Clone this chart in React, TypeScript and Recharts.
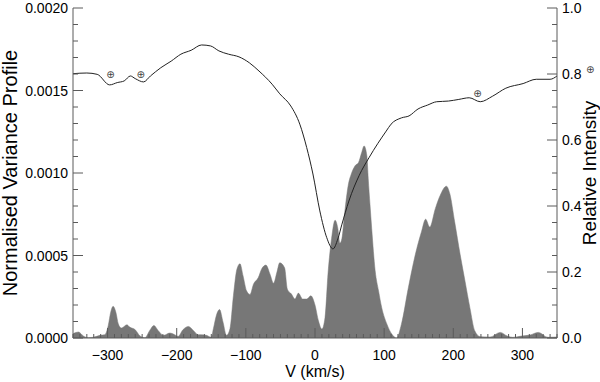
import React from 'react';
import { ComposedChart, Area, Line, XAxis, YAxis, ReferenceDot } from 'recharts';

// ---- Normalised variance profile (filled area, left axis) ----
const varianceVelocity = [
  -350, -342, -335, -328, -321, -311, -304, -299, -295.5, -292,
  -288, -284.5, -280, -272, -268, -260, -253, -246, -239, -233,
  -227, -219, -210, -203, -198, -191, -183, -176, -169, -164,
  -157, -150, -147, -142, -138, -133, -128, -123, -118, -113,
  -108.5, -104, -99, -94, -89, -82, -77, -71, -65, -60,
  -55, -51, -44, -40, -34, -29, -24, -18, -12, -6,
  0, 5, 10, 14.5, 19, 24, 29, 33, 36, 39,
  43, 48, 53, 58, 63, 67.5, 71, 75, 77, 79.5,
  82, 87, 92, 96.5, 104, 111, 118, 125, 135, 145,
  154, 160, 166, 174, 181, 190, 195, 202, 210, 217,
  224, 231, 239, 253, 268, 278, 286, 299, 311, 323,
  337, 350,
];
const varianceValues = [
  0.000026, 0.000036, 0.000012, 0.000002, 0.000004, 0.000016, 0.00002, 0.000076, 0.000156, 0.000192,
  0.000156, 0.000086, 0.00006, 0.00008, 0.000066, 0.00005, 0.000012, 0.000002, 0.000046, 0.000076,
  0.000046, 0.000016, 0.00003, 0.00002, 0.00001, 0.00005, 0.00007, 0.000046, 0.00002, 0.00002,
  0.000016, 0.000004, 0.000056, 0.000146, 0.000172, 0.000096, 0.000016, 0.000056, 0.000256, 0.000416,
  0.00045, 0.000376, 0.000286, 0.000264, 0.000326, 0.000366, 0.00042, 0.000442, 0.000386, 0.000332,
  0.0004, 0.000456, 0.000426, 0.000296, 0.000266, 0.000236, 0.000272, 0.000236, 0.000236, 0.000256,
  0.0002, 0.000104, 0.000054, 0.000124, 0.0004, 0.000604, 0.000714, 0.000664, 0.000574, 0.000604,
  0.000762, 0.000924, 0.001, 0.001044, 0.001064, 0.001124, 0.001164, 0.001104, 0.000964, 0.00081,
  0.000664, 0.000408, 0.000284, 0.000184, 0.000084, 0.000024, 0.0, 0.000084, 0.000304, 0.000504,
  0.000644, 0.00072, 0.000672, 0.000784, 0.000864, 0.00092, 0.000874, 0.000704, 0.000504, 0.000344,
  0.000184, 0.000044, 0.000008, 0.000006, 0.000034, 0.000012, 0.000004, 0.000012, 0.000018, 0.000034,
  0.000004, 0.000006,
];

// ---- Relative intensity (line, right axis) ----
const intensityVelocity = [
  -350, -330, -315, -297, -286, -276, -267, -260, -248, -238,
  -223, -208, -194, -179, -164, -151, -139, -125, -110, -95,
  -81, -62, -51, -35, -22, -12, -3, 7, 17, 26,
  33, 39, 49, 64, 78, 91, 103, 110, 125, 136,
  149, 163, 176, 193, 208, 223, 239, 257, 276, 301,
  320, 340, 350,
];
const intensityValues = [
  0.801, 0.803, 0.799, 0.767, 0.774, 0.779, 0.794, 0.786, 0.776, 0.794,
  0.819, 0.839, 0.860, 0.872, 0.888, 0.885, 0.870, 0.860, 0.852, 0.834,
  0.809, 0.769, 0.740, 0.703, 0.648, 0.577, 0.497, 0.385, 0.304, 0.270,
  0.300, 0.345, 0.415, 0.493, 0.546, 0.590, 0.627, 0.648, 0.667, 0.673,
  0.694, 0.706, 0.716, 0.718, 0.723, 0.728, 0.716, 0.733, 0.757, 0.771,
  0.784, 0.784, 0.794,
];

// ---- Telluric markers (⊕) ----
const telluricVelocity = [-296, -252, 235, 398];
const telluricIntensity = [0.80, 0.80, 0.74, 0.815];

// ---- Axes ----
const xDomain = [-350, 350];
const xMajorTicks = [-300, -200, -100, 0, 100, 200, 300];
const xMinorStep = 10;
const leftDomain = [0, 0.002];
const leftMajorTicks = [0, 0.0005, 0.001, 0.0015, 0.002];
const leftMinorStep = 0.0001;
const rightDomain = [0, 1];
const rightMajorTicks = [0, 0.2, 0.4, 0.6, 0.8, 1.0];
const rightMinorStep = 0.05;

const xTitle = 'V (km/s)';
const leftTitle = 'Normalised Variance Profile';
const rightTitle = 'Relative Intensity';

const varianceData = varianceVelocity.map((v, i) => ({ v, s: varianceValues[i] }));
const intensityData = intensityVelocity.map((v, i) => ({ v, r: intensityValues[i] }));

const xTicks: number[] = [];
for (let v = xDomain[0]; v <= xDomain[1]; v += xMinorStep) xTicks.push(v);
const leftTicks: number[] = [];
for (let i = 0; i <= Math.round((leftDomain[1] - leftDomain[0]) / leftMinorStep); i++) leftTicks.push(+(i * leftMinorStep).toFixed(6));
const rightTicks: number[] = [];
for (let i = 0; i <= Math.round((rightDomain[1] - rightDomain[0]) / rightMinorStep); i++) rightTicks.push(+(i * rightMinorStep).toFixed(4));

const AXIS = '#5a5a5a';
const FONT = '"Liberation Sans", Arial, Helvetica, sans-serif';
const MAJOR = 10;
const MINOR = 5;
const XMINOR = 4;

const isMajor = (list: number[], v: number) => list.some((m) => Math.abs(m - v) < 1e-9);
const fmtX = (v: number) => (v < 0 ? '\u2212' + Math.abs(v) : String(v));

const BottomTick = (p: any) => {
  const { x, y, payload } = p;
  const v = payload.value;
  const major = isMajor(xMajorTicks, v);
  return (
    <g>
      <line x1={x} x2={x} y1={y} y2={y - (major ? MAJOR : XMINOR)} stroke={AXIS} strokeWidth={1} />
      {major && (
        <text x={x} y={y + 22} textAnchor="middle" fontFamily={FONT} fontSize={14} fill="#000">
          {fmtX(v)}
        </text>
      )}
    </g>
  );
};

const TopTick = (p: any) => {
  const { x, y, payload } = p;
  const major = isMajor(xMajorTicks, payload.value);
  return <line x1={x} x2={x} y1={y} y2={y + (major ? MAJOR : XMINOR)} stroke={AXIS} strokeWidth={1} />;
};

const LeftTick = (p: any) => {
  const { x, y, payload } = p;
  const v = payload.value;
  const major = isMajor(leftMajorTicks, v);
  return (
    <g>
      <line x1={x} x2={x + (major ? MAJOR : MINOR)} y1={y} y2={y} stroke={AXIS} strokeWidth={1} />
      {major && (
        <text x={x - 5} y={y + 5} textAnchor="end" fontFamily={FONT} fontSize={14} fill="#000">
          {v.toFixed(4)}
        </text>
      )}
    </g>
  );
};

const RightTick = (p: any) => {
  const { x, y, payload } = p;
  const v = payload.value;
  const major = isMajor(rightMajorTicks, v);
  return (
    <g>
      <line x1={x} x2={x - (major ? MAJOR : MINOR)} y1={y} y2={y} stroke={AXIS} strokeWidth={1} />
      {major && (
        <text x={x + 5} y={y + 5} textAnchor="start" fontFamily={FONT} fontSize={14} fill="#000">
          {v.toFixed(1)}
        </text>
      )}
    </g>
  );
};

const XTitle = (p: any) => {
  const vb = p.viewBox || {};
  return (
    <text x={vb.x + vb.width / 2} y={vb.y + 39} textAnchor="middle" fontFamily={FONT} fontSize={16} fill="#000">
      {xTitle}
    </text>
  );
};

const LeftTitle = (p: any) => {
  const vb = p.viewBox || {};
  const cx = vb.x + 17;
  const cy = vb.y + vb.height / 2;
  return (
    <text x={cx} y={cy} transform={`rotate(-90 ${cx} ${cy})`} textAnchor="middle" fontFamily={FONT} fontSize={20} fill="#000">
      {leftTitle}
    </text>
  );
};

const RightTitle = (p: any) => {
  const vb = p.viewBox || {};
  const cx = vb.x + 39;
  const cy = vb.y + vb.height / 2;
  return (
    <text x={cx} y={cy} transform={`rotate(-90 ${cx} ${cy})`} textAnchor="middle" fontFamily={FONT} fontSize={19} fill="#000">
      {rightTitle}
    </text>
  );
};

const Telluric = (p: any) => (
  <text x={p.cx} y={p.cy + 3.5} textAnchor="middle" fontFamily='"DejaVu Sans", sans-serif' fontSize={10} fill="#444">
    {'\u2295'}
  </text>
);

export default function App() {
  return (
    <div style={{ position: 'absolute', left: 0, top: 0, width: 600, height: 382, background: '#fff' }}>
      <ComposedChart width={600} height={382} margin={{ top: 8, right: 0, bottom: 0, left: 0 }}>
        <XAxis
          xAxisId="b"
          type="number"
          dataKey="v"
          domain={xDomain}
          allowDataOverflow
          ticks={xTicks}
          interval={0}
          tickSize={0}
          tickMargin={0}
          tick={<BottomTick />}
          height={44}
          stroke={AXIS}
          label={<XTitle />}
        />
        <XAxis
          xAxisId="t"
          orientation="top"
          type="number"
          dataKey="v"
          domain={xDomain}
          allowDataOverflow
          ticks={xTicks}
          interval={0}
          tickSize={0}
          tickMargin={0}
          tick={<TopTick />}
          height={0}
          stroke={AXIS}
        />
        <YAxis
          yAxisId="l"
          type="number"
          domain={leftDomain}
          allowDataOverflow
          ticks={leftTicks}
          interval={0}
          tickSize={0}
          tickMargin={0}
          tick={<LeftTick />}
          width={73}
          stroke={AXIS}
          label={<LeftTitle />}
        />
        <YAxis
          yAxisId="r"
          orientation="right"
          type="number"
          domain={rightDomain}
          allowDataOverflow
          ticks={rightTicks}
          interval={0}
          tickSize={0}
          tickMargin={0}
          tick={<RightTick />}
          width={43}
          stroke={AXIS}
          label={<RightTitle />}
        />
        <Area
          xAxisId="b"
          yAxisId="l"
          data={varianceData}
          dataKey="s"
          type="monotone"
          fill="#777777"
          fillOpacity={1}
          stroke="#777777"
          strokeWidth={0.5}
          isAnimationActive={false}
        />
        <Line
          xAxisId="b"
          yAxisId="r"
          data={intensityData}
          dataKey="r"
          type="monotone"
          stroke="#222222"
          strokeWidth={1}
          dot={false}
          isAnimationActive={false}
        />
        {telluricVelocity.map((v, i) => (
          <ReferenceDot
            key={i}
            xAxisId="b"
            yAxisId="r"
            x={v}
            y={telluricIntensity[i]}
            ifOverflow="visible"
            shape={Telluric}
          />
        ))}
      </ComposedChart>
    </div>
  );
}
